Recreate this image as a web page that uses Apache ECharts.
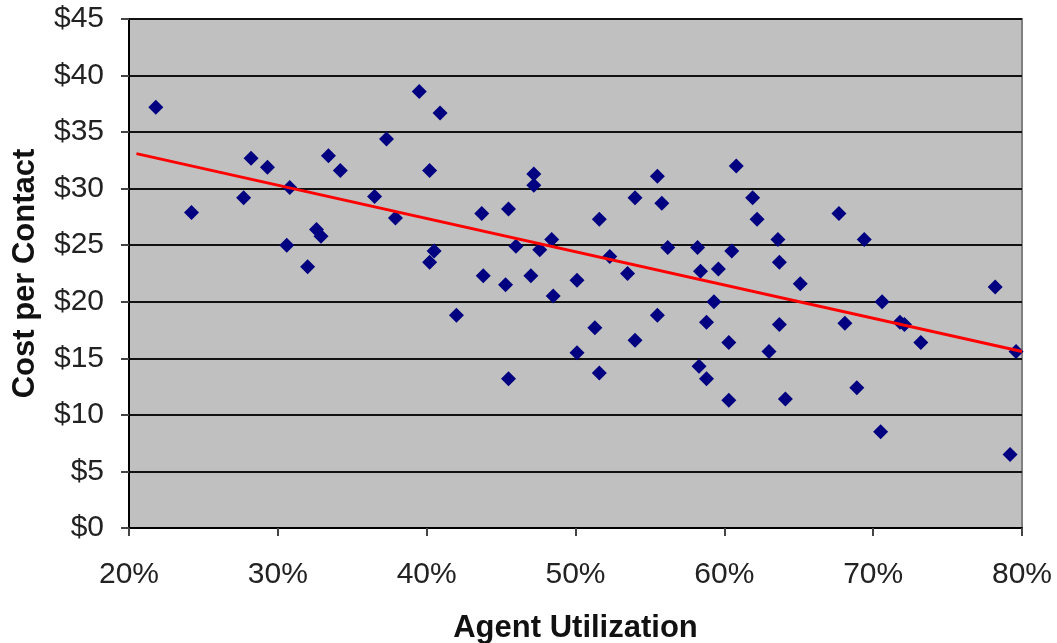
<!DOCTYPE html>
<html>
<head>
<meta charset="utf-8">
<script src="https://cdn.jsdelivr.net/npm/echarts@6/dist/echarts.min.js"></script>
<style>
html,body{margin:0;padding:0;background:#fff;}
#chart{width:1057px;height:643px;}
</style>
</head>
<body>
<div id="chart"></div>
<script>
// Agent utilization (%) for each contact centre
var utilization = [21.8,24.2,27.7,28.2,29.3,30.8,30.6,32.0,32.6,32.9,33.4,34.2,36.5,37.3,37.9,39.5,40.9,40.2,40.5,40.2,
  42.0,43.7,43.8,45.3,45.5,45.5,46.0,47.2,47.2,47.0,47.6,48.4,48.5,50.1,50.1,51.3,51.6,51.6,52.3,53.5,
  54.0,54.0,55.5,55.8,55.5,56.2,58.2,58.4,59.6,59.3,58.8,58.3,58.8,60.8,61.9,62.2,60.5,63.6,63.7,65.1,
  60.3,63.7,63.0,60.3,64.1,67.7,69.4,68.1,70.6,71.8,72.1,73.2,68.9,70.5,78.2,79.6,79.2];
// Cost per contact ($)
var cost = [37.2,27.9,29.2,32.7,31.9,30.1,25.0,23.1,26.4,25.8,32.9,31.6,29.3,34.4,27.4,38.6,36.7,31.6,24.5,23.5,
  18.8,27.8,22.3,21.5,28.2,13.2,24.9,31.3,30.3,22.3,24.6,25.5,20.5,21.9,15.5,17.7,27.3,13.7,24.0,22.5,
  29.2,16.6,31.1,28.7,18.8,24.8,24.8,22.7,22.9,20.0,18.2,14.3,13.2,32.0,29.2,27.3,24.5,25.5,23.5,21.6,
  16.4,18.0,15.6,11.3,11.4,27.8,25.5,18.1,20.0,18.2,18.0,16.4,12.4,8.5,21.3,15.6,6.5];
// Linear trend line end points
var trendX = [20.5, 80];
var trendY = [33.1, 15.6];
var xTicks = [20,30,40,50,60,70,80];
var yTicks = [0,5,10,15,20,25,30,35,40,45];

var points = utilization.map(function(u,i){return [u,cost[i]];});
var trend = trendX.map(function(x,i){return [x,trendY[i]];});

var chart = echarts.init(document.getElementById('chart'));
var font = 'Liberation Sans, Arial, sans-serif';
chart.setOption({
  animation:false,
  grid:{left:129,right:35,top:19,bottom:115,containLabel:false,outerBoundsMode:'none',show:true,backgroundColor:'#c0c0c0',borderColor:'#808080',borderWidth:2},
  xAxis:{type:'value',min:xTicks[0],max:xTicks[xTicks.length-1],interval:10,
    name:'Agent Utilization',nameLocation:'middle',nameGap:85,
    nameTextStyle:{fontFamily:font,fontWeight:'bold',fontSize:31,color:'#111'},
    axisLine:{show:true,onZero:false,lineStyle:{color:'#000',width:2}},
    axisTick:{show:true,length:8,lineStyle:{color:'#444',width:2}},
    axisLabel:{formatter:'{value}%',fontFamily:font,fontSize:30,color:'#222',margin:32},
    splitLine:{show:false}},
  yAxis:{type:'value',min:yTicks[0],max:yTicks[yTicks.length-1],interval:5,
    name:'Cost per Contact',nameLocation:'middle',nameGap:88,
    nameTextStyle:{fontFamily:font,fontWeight:'bold',fontSize:31,color:'#111'},
    axisLine:{show:true,onZero:false,lineStyle:{color:'#000',width:2}},
    axisTick:{show:true,length:8,lineStyle:{color:'#444',width:2}},
    axisLabel:{formatter:'${value}',fontFamily:font,fontSize:30,color:'#222',margin:25},
    splitLine:{show:true,lineStyle:{color:'#111',width:2}}},
  series:[
    {type:'scatter',data:points,symbol:'diamond',symbolSize:15,itemStyle:{color:'#000080',opacity:1},z:3},
    {type:'line',data:trend,symbol:'none',lineStyle:{color:'#ff0000',width:3},z:4}
  ]
});
</script>
</body>
</html>
